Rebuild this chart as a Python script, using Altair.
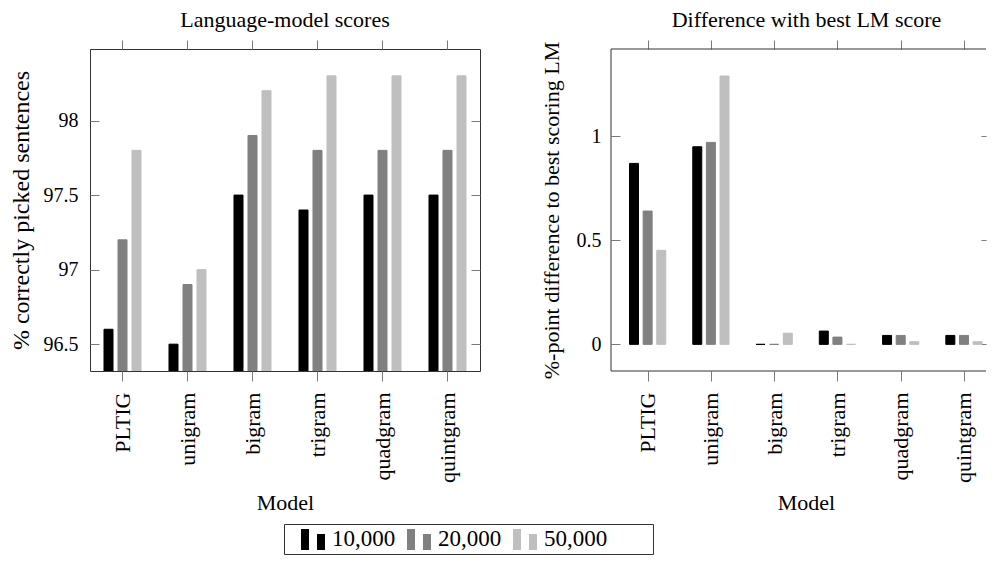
import json
import altair as alt
import pandas as pd

models = ["PLTIG", "unigram", "bigram", "trigram", "quadgram", "quintgram"]
sizes = ["10,000", "20,000", "50,000"]
colors = ["#000000", "#808080", "#bfbfbf"]

scores_10k = [96.6, 96.5, 97.5, 97.4, 97.5, 97.5]
scores_20k = [97.2, 96.9, 97.9, 97.8, 97.8, 97.8]
scores_50k = [97.8, 97.0, 98.2, 98.3, 98.3, 98.3]

diff_10k = [0.87, 0.95, 0.0, 0.064, 0.043, 0.043]
diff_20k = [0.641, 0.971, 0.0, 0.035, 0.043, 0.043]
diff_50k = [0.452, 1.29, 0.054, 0.0, 0.013, 0.013]

left_ticks = [96.5, 97, 97.5, 98]
right_ticks = [0, 0.5, 1]
left_domain = [96.32, 98.48]
right_domain = [-0.128, 1.42]

FONT = "Liberation Serif"
TICK = "#7a7a7a"
FRAME = "#333333"

legend_path = ("M-1,-0.833H-0.333V0.917H-1Z "
               "M0.333,-0.417H1V0.917H0.333Z")

STEP = 65          # px per model group
BAR_STEP = 14      # px between bars of one group
RIGHT_WIDTH = 375  # visible part of the right panel (the reference runs past the page edge)


def long_frame(series):
    return pd.DataFrame({
        "Model": models * 3,
        "Size": [s for s in sizes for _ in models],
        "idx": list(range(len(models))) * 3,
        "k": [k for k in range(len(sizes)) for _ in models],
        "Value": series[0] + series[1] + series[2],
    })


def y_axes(yticks, ytitle, ytitle_size, label_pad, ytitle_pad, rtick):
    left_axis = alt.Axis(orient="left", values=yticks, format="~g", tickSize=9, offset=-9,
                         domain=False, labelPadding=label_pad, labelFontSize=20,
                         title=ytitle, titleFontSize=ytitle_size, titlePadding=ytitle_pad)
    right_axis = alt.Axis(orient="right", values=yticks, labels=False, title=None,
                          tickSize=rtick, offset=-rtick, domain=False)
    return left_axis, right_axis


def title_params(text, dx):
    return alt.TitleParams(text, fontSize=22, font=FONT, fontWeight="normal", color="black",
                           frame="group", offset=8, dx=dx)


# ---------------- left panel (band scale) ----------------
ldf = long_frame([scores_10k, scores_20k, scores_50k])
lx = alt.Scale(domain=models, paddingInner=0, paddingOuter=0)
ly = alt.Scale(domain=left_domain, nice=False, zero=False)
lo = alt.Scale(domain=sizes, paddingInner=0.357, paddingOuter=1.0)
stroke_scale = alt.Scale(domain=sizes, range=colors)
legend_scale = alt.Scale(domain=sizes + [""], range=colors + ["transparent"])
legend = alt.Legend(
    orient="none", legendX=194, legendY=475, direction="horizontal",
    title=" ", titleOrient="left", titleFontSize=1, titlePadding=14,
    symbolType=legend_path, symbolSize=576, symbolStrokeWidth=0,
    symbolOpacity=1, labelFontSize=23, labelFont=FONT, labelColor="black",
    labelOffset=7, columnPadding=11, padding=3, strokeColor=FRAME,
)
la_left, la_right = y_axes(left_ticks, "% correctly picked sentences", 24, 12, 10, 9)
lbase = alt.Chart(ldf)
left_bars = lbase.mark_bar(strokeWidth=1, clip=True).encode(
    x=alt.X("Model:N", sort=models, scale=lx,
            axis=alt.Axis(orient="bottom", title="Model", labelAngle=-90, tickSize=10,
                          domain=False, labelPadding=11, labelFontSize=22, titleFontSize=22,
                          titlePadding=10)),
    xOffset=alt.XOffset("Size:N", sort=sizes, scale=lo),
    y=alt.Y("Value:Q", scale=ly, axis=la_left),
    y2=alt.datum(left_domain[0]),
    color=alt.Color("Size:N", sort=sizes, scale=legend_scale, legend=legend),
    stroke=alt.Stroke("Size:N", sort=sizes, scale=stroke_scale, legend=None),
)
left_frame = lbase.mark_bar(opacity=0).encode(
    x=alt.X("Model:N", sort=models, scale=lx,
            axis=alt.Axis(orient="top", labels=False, title=None, tickSize=9, domain=False)),
    xOffset=alt.XOffset("Size:N", sort=sizes, scale=lo),
    y=alt.Y("Value:Q", scale=ly, axis=la_right),
    y2=alt.datum(left_domain[0]),
)
left = alt.layer(left_bars, left_frame).resolve_axis(x="independent", y="independent").properties(
    width=STEP * len(models), height=322, title=title_params("Language-model scores", 0))

# ---------------- right panel (continuous position, 65px per model) ----------------
rdf = long_frame([diff_10k, diff_20k, diff_50k])
rx = alt.Scale(domain=[-0.5, -0.5 + RIGHT_WIDTH / STEP], nice=False, zero=False)
ry = alt.Scale(domain=right_domain, nice=False, zero=False)
label_expr = json.dumps(models) + "[datum.value]"
ra_left, ra_right = y_axes(right_ticks, "%-point difference to best scoring LM", 22, 10, 13, 5)
rbase = alt.Chart(rdf).transform_calculate(
    pos=f"datum.idx + (datum.k - 1) * {BAR_STEP / STEP}"
)
right_bars = rbase.mark_bar(size=9, strokeWidth=1, clip=True).encode(
    x=alt.X("pos:Q", scale=rx,
            axis=alt.Axis(orient="bottom", title="Model", values=list(range(len(models))),
                          labelExpr=label_expr, labelAngle=-90, tickSize=10, domain=False,
                          labelPadding=11, labelFontSize=22, titleFontSize=22, titlePadding=10,
                          titleX=195, grid=False)),
    y=alt.Y("Value:Q", scale=ry, axis=ra_left),
    y2=alt.datum(0),
    color=alt.Color("Size:N", sort=sizes, scale=stroke_scale, legend=None),
    stroke=alt.Stroke("Size:N", sort=sizes, scale=stroke_scale, legend=None),
)
right_frame = rbase.mark_bar(size=9, opacity=0, clip=True).encode(
    x=alt.X("pos:Q", scale=rx,
            axis=alt.Axis(orient="top", values=list(range(len(models))), labels=False,
                          title=None, tickSize=9, domain=False, grid=False)),
    y=alt.Y("Value:Q", scale=ry, axis=ra_right),
    y2=alt.datum(0),
)
edge = alt.Chart(alt.Data(values=[{"edge": 1}]))
edges = [
    edge.mark_rule(color=FRAME, strokeWidth=1).encode(
        x=alt.value(0), y=alt.value(0), y2=alt.value("height")),
    edge.mark_rule(color=FRAME, strokeWidth=1).encode(
        y=alt.value(0), x=alt.value(0), x2=alt.value("width")),
    edge.mark_rule(color=FRAME, strokeWidth=1).encode(
        y=alt.value("height"), x=alt.value(0), x2=alt.value("width")),
]
right = alt.layer(right_bars, right_frame, *edges).resolve_axis(
    x="independent", y="independent"
).properties(
    width=RIGHT_WIDTH, height=322, title=title_params("Difference with best LM score", 8),
    view=alt.ViewBackground(strokeOpacity=0),
)

chart = alt.hconcat(left, right, spacing=131, bounds="flush").resolve_scale(
    color="independent", stroke="independent"
).properties(
    padding={"left": 0, "top": 0, "right": 0, "bottom": 0}
).configure_view(
    stroke=FRAME, strokeWidth=1
).configure_axis(
    labelFont=FONT, titleFont=FONT, labelColor="black", titleColor="black",
    titleFontWeight="normal", tickColor=TICK, tickWidth=1, grid=False,
).configure_title(font=FONT)

chart.save("out.html", embed_options={"renderer": "svg", "actions": False})
